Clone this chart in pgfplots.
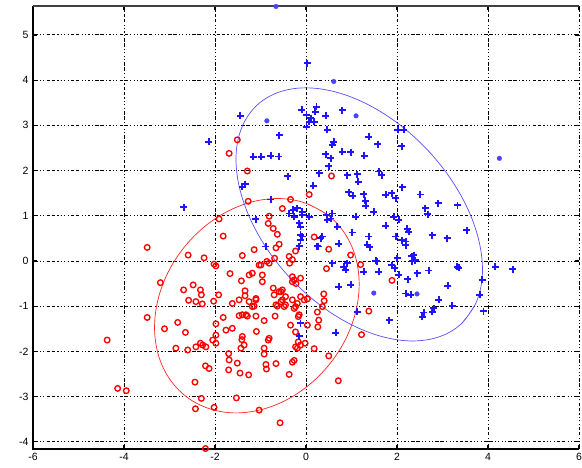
\documentclass[border=0pt]{standalone}
\usepackage{fontspec}
\setmainfont{Liberation Sans}
\usepackage{pgfplots}
\pgfplotsset{compat=1.18}

% class 1 (red circles)
\pgfplotstableread{
x y
-1.51 2.68
-1.69 2.38
-1.29 1.99
-1.27 1.32
0.56 1.88
0.07 1.47
-0.34 1.36
-0.52 1.16
-1.91 0.93
-0.81 0.99
-0.83 0.83
-0.72 0.72
-0.63 0.59
-1.82 0.55
0.18 0.53
-0.59 0.37
-0.66 0.29
-1.14 0.25
-1.40 0.12
0.50 0.26
0.98 0.13
1.20 -0.08
0.45 -0.17
-3.49 0.30
-2.59 0.13
-2.24 0.07
-2.02 -0.07
-1.98 -0.11
-0.69 0.06
-0.86 -0.01
-0.99 -0.09
-0.37 0.10
-0.30 0.03
-0.36 -0.05
-0.23 0.22
-3.20 -0.48
-2.69 -0.64
-2.48 -0.53
-2.32 -0.64
-2.30 -0.75
-2.58 -0.87
-2.42 -0.90
-2.28 -0.95
-2.03 -0.89
-1.92 -0.75
-1.67 -0.28
-1.42 -0.44
-1.34 -0.66
-1.34 -0.77
-1.62 -0.94
-1.47 -0.86
-1.25 -0.90
-1.10 -0.86
-1.18 -1.01
-1.29 -1.22
-1.47 -1.21
-1.10 -1.22
-0.96 -0.46
-1.25 -0.31
-0.96 -0.31
-1.18 -0.27
-1.03 -0.09
-0.81 -0.05
-0.72 -0.60
-0.55 -0.68
-0.45 -0.79
-0.55 -0.90
-0.66 -0.97
-0.30 -0.86
-0.23 -1.01
-0.52 -0.64
-0.30 -0.46
-0.12 -0.38
-0.30 -0.35
-0.26 -0.42
-0.22 -0.50
-0.59 -0.68
-0.52 -0.86
-0.45 -0.97
-0.19 -0.94
-0.04 -0.86
0.03 -0.84
0.39 -0.73
0.40 -0.88
0.36 -1.01
0.25 -1.13
0.28 -1.31
0.26 -1.46
0.03 -1.42
-0.15 -1.19
-0.34 -1.42
-0.92 -1.32
-0.81 -1.71
-0.68 -1.22
-0.48 -1.01
-0.26 -1.05
-0.17 -1.23
-0.63 -1.00
-1.14 -1.00
-0.70 -0.75
-1.10 -0.83
-0.12 -0.79
-1.40 -1.19
-1.32 -1.19
-1.82 -1.25
-1.98 -1.39
-1.76 -1.53
-1.62 -1.49
-1.98 -1.64
-2.05 -1.75
-1.98 -1.82
-2.27 -1.86
-2.42 -1.90
-2.32 -1.82
-2.20 -1.90
-2.60 -1.97
-2.86 -1.93
-2.82 -1.36
-2.65 -1.58
-3.11 -1.50
-3.49 -1.25
-4.37 -1.75
-4.14 -2.82
-3.95 -2.87
-2.44 -2.68
-2.30 -3.04
-2.43 -3.27
-2.02 -3.24
-2.21 -4.15
-2.21 -2.32
-2.13 -2.38
-1.70 -2.05
-1.69 -2.19
-1.70 -2.41
-1.51 -2.26
-1.45 -2.48
-1.26 -2.52
-1.53 -3.03
-1.43 -1.93
-1.41 -1.74
-1.36 -1.86
-1.40 -1.67
-1.09 -1.56
-0.92 -1.93
-0.92 -2.06
-0.88 -2.29
-0.87 -2.39
-0.66 -2.27
-0.37 -2.51
-0.30 -2.24
-0.26 -2.20
-1.03 -3.30
-0.57 -3.58
-0.83 -1.75
-0.17 -1.79
-0.12 -1.86
-0.02 -1.82
-0.19 -1.93
0.18 -1.94
0.50 -2.10
0.71 -2.65
1.22 -1.63
1.38 -1.11
1.89 -0.43
-0.23 -1.57
-0.23 -1.90
}\redpts

% class 2 (blue pluses)
\pgfplotstableread{
x y
0.03 4.37
-1.45 3.21
-0.09 3.34
0.01 3.23
0.10 3.16
0.07 3.08
0.18 3.08
0.23 3.41
0.20 3.30
0.01 2.97
0.43 3.21
0.80 3.33
0.47 2.90
-0.59 2.78
0.61 2.64
0.58 2.57
0.80 2.42
0.98 2.41
0.43 2.36
0.54 2.27
0.50 2.10
1.28 2.33
1.38 2.75
1.58 2.58
-1.16 2.30
-0.98 2.30
-0.77 2.33
-0.60 2.31
-0.40 1.87
0.29 1.94
0.91 1.90
1.13 1.92
1.15 1.75
2.02 2.90
2.15 2.90
2.10 2.54
1.60 1.98
1.67 1.90
0.16 1.66
2.11 1.63
2.51 1.47
2.91 1.28
3.33 1.23
0.94 1.52
1.03 1.44
1.27 1.48
1.30 1.33
1.75 1.46
1.89 1.50
1.97 1.39
1.31 1.22
1.49 1.09
1.09 0.98
1.93 0.98
2.04 0.91
2.62 1.17
2.68 1.03
0.58 1.05
0.47 0.91
0.69 0.76
1.02 0.63
1.38 0.54
1.75 0.78
2.22 0.71
2.26 0.65
2.77 0.57
3.10 0.50
3.53 0.68
-0.37 1.05
-0.26 0.98
-0.08 1.02
-0.15 0.83
-0.12 0.76
-0.28 1.13
-0.19 1.17
-0.08 1.09
0.07 0.98
0.45 1.02
0.54 0.94
-0.12 0.58
-0.12 0.46
0.32 0.50
0.27 0.32
0.72 0.38
1.35 0.36
1.40 0.30
-0.88 0.32
-0.08 0.54
0.36 0.54
-0.15 0.33
0.25 0.33
1.97 0.54
2.19 0.43
2.10 0.46
2.19 0.35
2.32 0.10
2.37 0.13
2.40 0.02
2.33 -0.01
2.00 0.06
1.89 -0.09
1.95 -0.16
1.53 0.00
1.60 -0.24
2.44 -0.27
2.70 -0.21
2.04 -0.31
2.24 -0.40
3.32 -0.13
3.36 -0.15
4.16 -0.13
4.54 -0.18
3.87 -0.42
3.12 -0.55
2.19 -0.72
2.30 -0.75
3.82 -0.75
2.92 -0.86
3.21 -0.99
2.81 -1.05
2.77 -1.12
2.59 -1.14
2.55 -1.23
3.90 -1.11
1.83 -1.31
0.58 -0.05
0.83 -0.13
0.87 -0.20
0.91 -0.05
1.27 -0.24
1.56 -0.01
0.72 -0.57
0.98 -0.53
1.13 -1.12
0.65 -1.59
-0.12 -1.38
-0.15 -1.67
-0.77 1.36
-1.40 1.64
-1.34 1.70
-1.10 0.92
-2.14 2.64
-2.69 1.19
}\bluepts

% class 2 outliers drawn as dots
\pgfplotstableread{
x y
-0.66 5.63
0.61 3.97
1.10 3.21
-0.86 3.10
4.25 2.27
1.49 -0.71
2.44 -0.73
}\bluedots

\definecolor{mblue}{RGB}{30,20,255}
\definecolor{mred}{RGB}{255,0,0}

\begin{document}
\begin{tikzpicture}
\begin{axis}[
    scale only axis,
    width=546pt, height=443pt,
    xmin=-6, xmax=6,
    ymin=-4.16, ymax=5.64,
    xtick={-6,-4,-2,0,2,4,6},
    ytick={-4,-3,-2,-1,0,1,2,3,4,5},
    grid=major,
    major grid style={black, line width=0.9pt,
        dash pattern=on 1.2pt off 2.2pt on 1.2pt off 2.2pt on 1.2pt off 2.2pt on 1.2pt off 2.2pt on 3.5pt off 1.5pt on 3.5pt off 2.2pt},
    axis line style={draw=none},
    tick align=inside,
    major tick length=4pt,
    tick style={black, line width=1.2pt},
    tick label style={font=\fontsize{10.5}{12}\selectfont},
    /pgf/number format/assume math mode=true,
    yticklabel style={xshift=-1pt},
    xticklabel style={yshift=-1pt},
    clip=false,
]

\addplot[only marks, mark=o, mark size=2.8pt, color=mred,
    mark options={draw=mred, solid, line width=1.35pt}] table {\redpts};
\addplot[only marks, mark=+, mark size=3.5pt, color=mblue,
    mark options={draw=mblue, solid, line width=1.9pt}] table {\bluepts};
\addplot[only marks, mark=*, mark size=2.3pt, color=mblue!80,
    mark options={fill=mblue!80, draw=none}] table {\bluedots};

% fitted ellipse, class 1
\addplot[mred!85, line width=0.7pt, smooth, tension=0.6] coordinates {
(0.473,1.020) (-0.001,1.276) (-0.548,1.380) (-1.132,1.320) (-1.711,1.104)
(-2.249,0.744) (-2.706,0.267) (-3.053,-0.296) (-3.265,-0.906) (-3.328,-1.522)
(-3.238,-2.102) (-3.001,-2.606) (-2.633,-3.000) (-2.159,-3.256) (-1.612,-3.360)
(-1.028,-3.300) (-0.449,-3.084) (0.089,-2.724) (0.546,-2.247) (0.893,-1.684)
(1.105,-1.074) (1.168,-0.458) (1.078,0.122) (0.841,0.626) (0.473,1.020)
(-0.001,1.276)
};

% fitted ellipse, class 2
\addplot[mblue!75, line width=0.7pt, smooth, tension=0.6] coordinates {
(3.412,-1.391) (3.729,-0.944) (3.872,-0.364) (3.829,0.312) (3.606,1.037)
(3.217,1.761) (2.689,2.436) (2.057,3.015) (1.364,3.459) (0.659,3.736)
(-0.012,3.830) (-0.603,3.732) (-1.072,3.451) (-1.389,3.004) (-1.532,2.424)
(-1.489,1.748) (-1.266,1.023) (-0.877,0.299) (-0.349,-0.376) (0.283,-0.955)
(0.976,-1.399) (1.681,-1.676) (2.352,-1.770) (2.943,-1.672) (3.412,-1.391)
(3.729,-0.944)
};

\draw[black, line width=1.8pt] (rel axis cs:0,1) -- (rel axis cs:0,0) -- (rel axis cs:1,0);
\draw[black!75, line width=1.8pt] (rel axis cs:0,1) -- (rel axis cs:1,1);
\end{axis}
\pgfresetboundingbox
\path[use as bounding box] (-33pt,-18pt) rectangle (549pt,449pt);
\end{tikzpicture}
\end{document}
